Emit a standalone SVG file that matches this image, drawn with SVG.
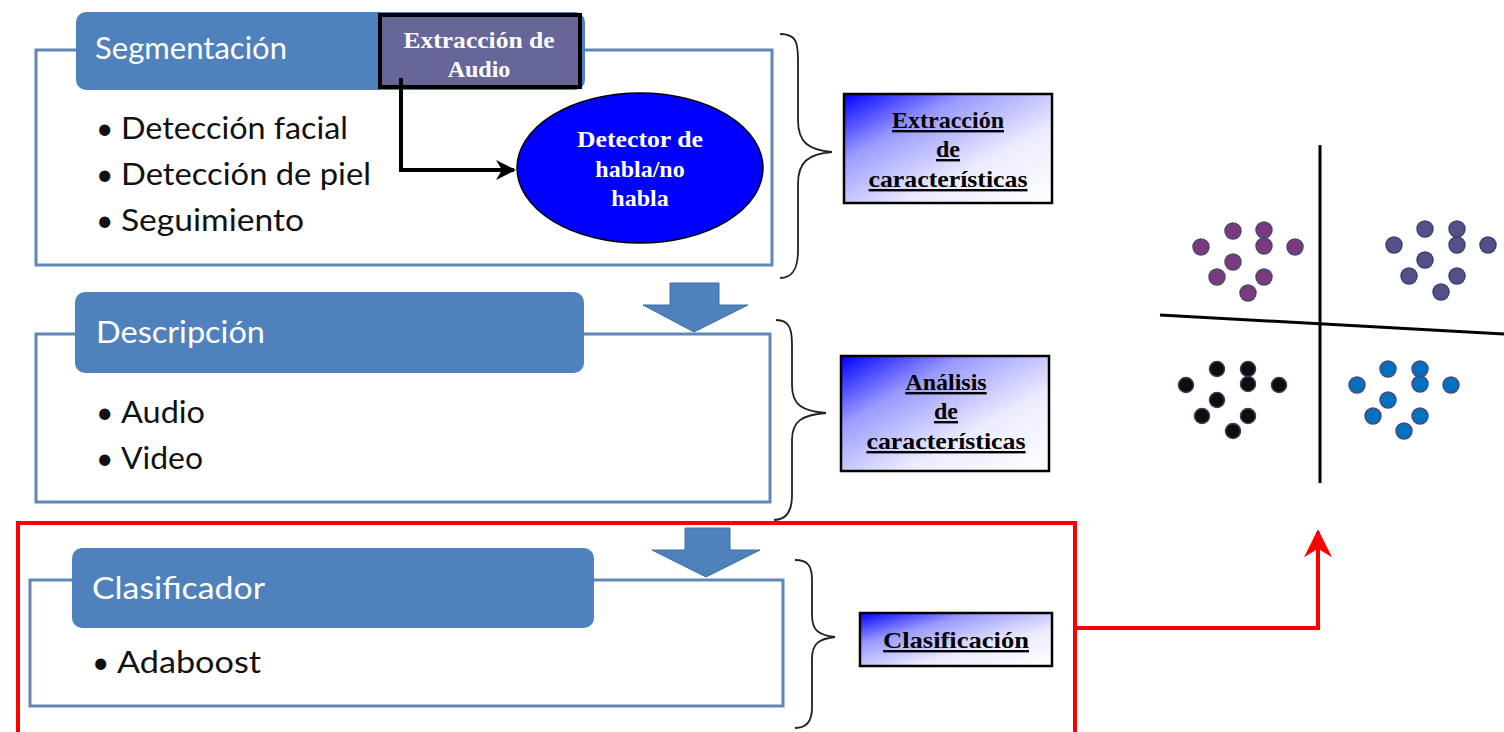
<svg xmlns="http://www.w3.org/2000/svg" width="1504" height="732" viewBox="0 0 1504 732">
<defs>
<linearGradient id="lg" x1="0" y1="0" x2="1" y2="1">
<stop offset="0" stop-color="#0000ff"/>
<stop offset="0.3" stop-color="#9a9aff"/>
<stop offset="0.65" stop-color="#ececff"/>
<stop offset="1" stop-color="#ffffff"/>
</linearGradient>
<marker id="ah" viewBox="0 0 10 10" refX="9" refY="5" markerWidth="5" markerHeight="5" markerUnits="strokeWidth" orient="auto">
<path d="M0,0 L10,5 L0,10 L3,5 Z" fill="#000"/>
</marker>
<marker id="ahr" viewBox="0 0 10 10" refX="9" refY="5" markerWidth="7" markerHeight="7" markerUnits="strokeWidth" orient="auto">
<path d="M0,0 L10,5 L0,10 L3,5 Z" fill="#ff0000"/>
</marker>
</defs>
<style>
.outer{fill:#fff;stroke:#5f87b8;stroke-width:3}
.hdr{fill:#4f81bd}
.htxt{font-family:Lato,"Open Sans",sans-serif;font-size:30px;fill:#fff}
.btxt{font-family:Lato,"Open Sans",sans-serif;font-size:30px;fill:#111}
.ser{font-family:"Liberation Serif",serif;font-weight:bold;font-size:24px;text-anchor:middle}
.lbl{fill:url(#lg);stroke:#000;stroke-width:2.5}
.brace{fill:none;stroke:#222;stroke-width:1.8}
.blk{fill:#4f81bd;stroke:#3d6ea8;stroke-width:1}
.pu{fill:#7a3b7e;stroke:#4a4a6e;stroke-width:1.5}
.sl{fill:#525288;stroke:#3f3f6e;stroke-width:1.5}
.bk{fill:#0d0d0d;stroke:#3a3a5e;stroke-width:1.5}
.bl{fill:#0070c0;stroke:#4a4a7a;stroke-width:1.5}
</style>
<rect width="1504" height="732" fill="#fff"/>

<g id="segmentacion">
<rect class="outer" x="36" y="50" width="736" height="215"/>
<rect class="hdr" x="76" y="12" width="509" height="78" rx="10"/>
<text class="htxt" x="95" y="59" textLength="192" lengthAdjust="spacingAndGlyphs">Segmentación</text>
<text class="btxt" x="96" y="139">•</text><text class="btxt" x="121" y="139" textLength="227" lengthAdjust="spacingAndGlyphs">Detección facial</text>
<text class="btxt" x="96" y="185">•</text><text class="btxt" x="121" y="185" textLength="250" lengthAdjust="spacingAndGlyphs">Detección de piel</text>
<text class="btxt" x="96" y="231">•</text><text class="btxt" x="121" y="231" textLength="183" lengthAdjust="spacingAndGlyphs">Seguimiento</text>
</g>

<g id="extraccion-audio">
<rect x="380" y="15" width="200" height="72" fill="#666699" stroke="#000" stroke-width="4"/>
<text class="ser" x="479" y="48" fill="#fff" textLength="151" lengthAdjust="spacingAndGlyphs">Extracción de</text>
<text class="ser" x="479" y="77" fill="#fff">Audio</text>
</g>

<g id="detector">
<ellipse cx="640" cy="168" rx="123" ry="75" fill="#0000ff" stroke="#000" stroke-width="1.5"/>
<text class="ser" x="640" y="147" fill="#fff" textLength="126" lengthAdjust="spacingAndGlyphs">Detector de</text>
<text class="ser" x="640" y="177" fill="#fff">habla/no</text>
<text class="ser" x="640" y="206" fill="#fff">habla</text>
</g>

<g id="descripcion">
<rect class="outer" x="36" y="334" width="734" height="168"/>
<rect class="hdr" x="75" y="292" width="509" height="81" rx="10"/>
<text class="htxt" x="96" y="343" textLength="169" lengthAdjust="spacingAndGlyphs">Descripción</text>
<text class="btxt" x="96" y="423">•</text><text class="btxt" x="121" y="423" textLength="84" lengthAdjust="spacingAndGlyphs">Audio</text>
<text class="btxt" x="96" y="469">•</text><text class="btxt" x="121" y="469" textLength="82" lengthAdjust="spacingAndGlyphs">Video</text>
</g>

<g id="clasificador">
<rect class="outer" x="30" y="580" width="753" height="126"/>
<rect class="hdr" x="72" y="548" width="522" height="80" rx="10"/>
<text class="htxt" x="92" y="599" textLength="173" lengthAdjust="spacingAndGlyphs">Clasificador</text>
<text class="btxt" x="92" y="673">•</text><text class="btxt" x="117" y="673" textLength="144" lengthAdjust="spacingAndGlyphs">Adaboost</text>
</g>

<g id="red-frame">
<rect x="18" y="523" width="1057" height="215" fill="none" stroke="#ff0000" stroke-width="4"/>
</g>

<g id="label-extraccion">
<rect class="lbl" x="844" y="94" width="208" height="109"/>
<text class="ser" x="948" y="128" text-decoration="underline">Extracción</text>
<text class="ser" x="948" y="157" text-decoration="underline">de</text>
<text class="ser" x="948" y="187" text-decoration="underline" textLength="159" lengthAdjust="spacingAndGlyphs">características</text>
</g>

<g id="label-analisis">
<rect class="lbl" x="841" y="356" width="208" height="115"/>
<text class="ser" x="946" y="390" text-decoration="underline">Análisis</text>
<text class="ser" x="946" y="419" text-decoration="underline">de</text>
<text class="ser" x="946" y="449" text-decoration="underline" textLength="159" lengthAdjust="spacingAndGlyphs">características</text>
</g>

<g id="label-clasificacion">
<rect class="lbl" x="860" y="613" width="192" height="53"/>
<text class="ser" x="956" y="648" text-decoration="underline" textLength="146" lengthAdjust="spacingAndGlyphs">Clasificación</text>
</g>

<g id="scatter">
<line x1="1320" y1="145" x2="1320" y2="483" stroke="#000" stroke-width="3"/>
<line x1="1160" y1="315" x2="1504" y2="334" stroke="#000" stroke-width="3"/>
<circle class="pu" cx="1233" cy="231" r="8"/><circle class="pu" cx="1264" cy="230" r="8"/>
<circle class="pu" cx="1201" cy="247" r="8"/><circle class="pu" cx="1264" cy="246" r="8"/>
<circle class="pu" cx="1295" cy="247" r="8"/><circle class="pu" cx="1233" cy="262" r="8"/>
<circle class="pu" cx="1217" cy="277" r="8"/><circle class="pu" cx="1264" cy="277" r="8"/>
<circle class="pu" cx="1248" cy="293" r="8"/>
<circle class="sl" cx="1425" cy="229" r="8"/><circle class="sl" cx="1457" cy="229" r="8"/>
<circle class="sl" cx="1394" cy="245" r="8"/><circle class="sl" cx="1457" cy="245" r="8"/>
<circle class="sl" cx="1488" cy="245" r="8"/><circle class="sl" cx="1425" cy="260" r="8"/>
<circle class="sl" cx="1409" cy="276" r="8"/><circle class="sl" cx="1457" cy="276" r="8"/>
<circle class="sl" cx="1441" cy="292" r="8"/>
<circle class="bk" cx="1217" cy="369" r="7.5"/><circle class="bk" cx="1248" cy="369" r="7.5"/>
<circle class="bk" cx="1186" cy="385" r="7.5"/><circle class="bk" cx="1248" cy="384" r="7.5"/>
<circle class="bk" cx="1279" cy="385" r="7.5"/><circle class="bk" cx="1217" cy="400" r="7.5"/>
<circle class="bk" cx="1202" cy="416" r="7.5"/><circle class="bk" cx="1248" cy="416" r="7.5"/>
<circle class="bk" cx="1233" cy="431" r="7.5"/>
<circle class="bl" cx="1388" cy="369" r="8"/><circle class="bl" cx="1420" cy="369" r="8"/>
<circle class="bl" cx="1357" cy="385" r="8"/><circle class="bl" cx="1420" cy="384" r="8"/>
<circle class="bl" cx="1451" cy="385" r="8"/><circle class="bl" cx="1388" cy="400" r="8"/>
<circle class="bl" cx="1373" cy="416" r="8"/><circle class="bl" cx="1420" cy="416" r="8"/>
<circle class="bl" cx="1404" cy="431" r="8"/>
</g>

<g id="connectors">
<path d="M401,78 V170 H514" fill="none" stroke="#000" stroke-width="4" marker-end="url(#ah)"/>
<path class="blk" d="M670,283 H719 V305 H748 L694,332 L643,305 H670 Z"/>
<path class="blk" d="M685,528 H730 V550 H760 L706,577 L652,550 H685 Z"/>
<path class="brace" d="M780,34 C796,34 798,42 798,60 V120 C798,142 808,150 832,152 C808,154 798,162 798,184 V250 C798,270 792,278 780,278"/>
<path class="brace" d="M776,320 C790,320 792,330 792,345 V385 C792,405 802,411 826,413 C802,415 792,421 792,440 V495 C792,512 786,520 774,520"/>
<path class="brace" d="M795,560 C808,560 812,566 812,580 V615 C812,630 818,635 835,637 C818,639 812,644 812,659 V708 C812,722 806,728 795,728"/>
<path d="M1077,628 H1318 V532" fill="none" stroke="#ff0000" stroke-width="4" marker-end="url(#ahr)"/>
</g>
</svg>
